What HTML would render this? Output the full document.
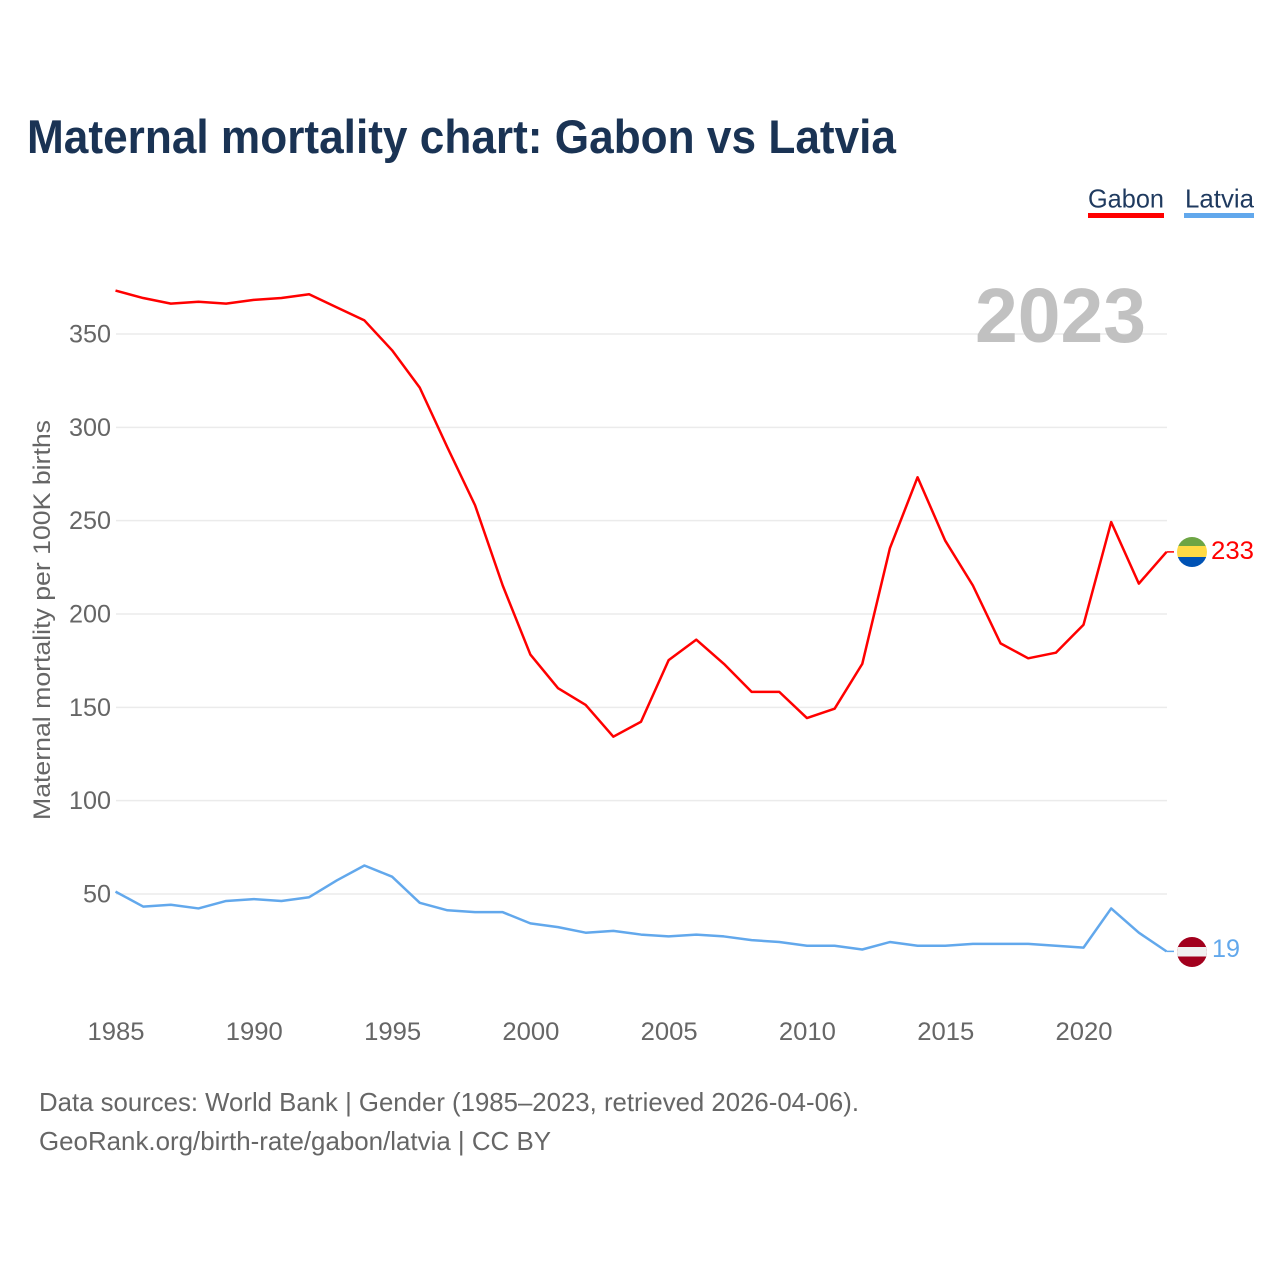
<!DOCTYPE html>
<html lang="en">
<head>
<meta charset="utf-8">
<title>Maternal mortality chart: Gabon vs Latvia</title>
<style>
html,body{margin:0;padding:0;background:#fff;width:1280px;height:1280px;overflow:hidden}
svg{display:block;font-family:"Liberation Sans",sans-serif}
</style>
</head>
<body>
<svg id="chart" xmlns="http://www.w3.org/2000/svg" width="1280" height="1280" viewBox="0 0 1280 1280">
  <defs>
    <clipPath id="clip-gabon"><circle cx="1192" cy="552" r="15"/></clipPath>
    <clipPath id="clip-latvia"><circle cx="1192" cy="952" r="15"/></clipPath>
  </defs>
  <rect width="1280" height="1280" fill="#fff"/>
  <text x="27" y="153" font-size="47" font-weight="700" fill="#1a3354" textLength="869" lengthAdjust="spacingAndGlyphs">Maternal mortality chart: Gabon vs Latvia</text>

  <g>
    <text x="1088" y="207.5" font-size="26" fill="#1f3a5f" textLength="76" lengthAdjust="spacingAndGlyphs">Gabon</text>
    <rect x="1088" y="213" width="76" height="5" fill="#ff0000"/>
  </g>
  <g>
    <text x="1185" y="207.5" font-size="26" fill="#1f3a5f" textLength="69" lengthAdjust="spacingAndGlyphs">Latvia</text>
    <rect x="1184" y="213" width="70" height="5" fill="#62a8ec"/>
  </g>

  <g id="grid"></g>
  <g id="y-ticks"></g>
  <g id="x-ticks"></g>

  <text x="975" y="342" font-size="77" font-weight="700" fill="#c1c1c1" textLength="171" lengthAdjust="spacingAndGlyphs">2023</text>

  <text transform="translate(50,820) rotate(-90)" font-size="24" fill="#666666" textLength="400" lengthAdjust="spacingAndGlyphs">Maternal mortality per 100K births</text>

  <g id="series"></g>

  <g clip-path="url(#clip-gabon)">
    <rect x="1177" y="537" width="30" height="9.5" fill="#6da544"/>
    <rect x="1177" y="546" width="30" height="11.5" fill="#ffda44"/>
    <rect x="1177" y="557" width="30" height="10" fill="#0052b4"/>
  </g>
  <g clip-path="url(#clip-latvia)">
    <rect x="1177" y="937" width="30" height="30" fill="#a2001d"/>
    <rect x="1177" y="947" width="30" height="9.5" fill="#f0f0f0"/>
  </g>
  <text x="1211" y="559" font-size="25" fill="#ff0000" textLength="43" lengthAdjust="spacingAndGlyphs">233</text>
  <text x="1212" y="957" font-size="25" fill="#62a8ec" textLength="28" lengthAdjust="spacingAndGlyphs">19</text>

  <text x="39" y="1111" font-size="26" fill="#666666" textLength="820" lengthAdjust="spacingAndGlyphs">Data sources: World Bank | Gender (1985–2023, retrieved 2026-04-06).</text>
  <text x="39" y="1150" font-size="26" fill="#666666" textLength="512" lengthAdjust="spacingAndGlyphs">GeoRank.org/birth-rate/gabon/latvia | CC BY</text>
</svg>
<script>
const years = [1985,1986,1987,1988,1989,1990,1991,1992,1993,1994,1995,1996,1997,1998,1999,2000,2001,2002,2003,2004,2005,2006,2007,2008,2009,2010,2011,2012,2013,2014,2015,2016,2017,2018,2019,2020,2021,2022,2023];
const gabonValues = [373,369,366,367,366,368,369,371,364,357,341,321,289,258,215,178,160,151,134,142,175,186,173,158,158,144,149,173,235,273,239,215,184,176,179,194,249,216,233];
const latviaValues = [51,43,44,42,46,47,46,48,57,65,59,45,41,40,40,34,32,29,30,28,27,28,27,25,24,22,22,20,24,22,22,23,23,23,22,21,42,29,19];
const yTickValues = [50,100,150,200,250,300,350];
const xTickValues = [1985,1990,1995,2000,2005,2010,2015,2020];

const NS = 'http://www.w3.org/2000/svg';
const xScale = function (year) { return 115.5 + (year - 1985) * (1166.5 - 115.5) / 38; };
const yScale = function (value) { return 334 + (350 - value) * 560 / 300; };
const lineNudge = -0.5;

const gridGroup = document.getElementById('grid');
const yTickGroup = document.getElementById('y-ticks');
const xTickGroup = document.getElementById('x-ticks');
const seriesGroup = document.getElementById('series');

yTickValues.forEach(function (value) {
  const line = document.createElementNS(NS, 'line');
  
  
  line.setAttribute('x1', 116);
  line.setAttribute('x2', 1167);
  line.setAttribute('y1', yScale(value));
  line.setAttribute('y2', yScale(value));
  line.setAttribute('stroke', '#ebebeb');
  line.setAttribute('stroke-width', '1.5');
  gridGroup.appendChild(line);

  const label = document.createElementNS(NS, 'text');
  
  
  label.setAttribute('x', 111);
  label.setAttribute('y', yScale(value) + 8.5);
  label.setAttribute('text-anchor', 'end');
  label.setAttribute('font-size', '25');
  label.setAttribute('fill', '#666666');
  label.setAttribute('textLength', String(value).length * 14);
  label.setAttribute('lengthAdjust', 'spacingAndGlyphs');
  label.textContent = value;
  yTickGroup.appendChild(label);
});

xTickValues.forEach(function (year) {
  const label = document.createElementNS(NS, 'text');
  
  
  label.setAttribute('x', xScale(year) - 28);
  label.setAttribute('y', 1040);
  label.setAttribute('font-size', '25');
  label.setAttribute('fill', '#666666');
  label.setAttribute('textLength', 57);
  label.setAttribute('lengthAdjust', 'spacingAndGlyphs');
  label.textContent = year;
  xTickGroup.appendChild(label);
});

function drawSeries(values, color) {
  const points = values.map(function (value, i) {
    return xScale(years[i]).toFixed(2) + ',' + (yScale(value) + lineNudge).toFixed(2);
  });
  const line = document.createElementNS(NS, 'polyline');
  line.setAttribute('fill', 'none');
  line.setAttribute('stroke', color);
  line.setAttribute('stroke-width', '2.5');
  line.setAttribute('stroke-linejoin', 'round');
  line.setAttribute('points', points.join(' '));
  return line;
}

function drawStub(values, color) {
  const y = yScale(values[values.length - 1]) + lineNudge;
  const stub = document.createElementNS(NS, 'line');
  stub.setAttribute('x1', xScale(years[years.length - 1]));
  stub.setAttribute('x2', 1174);
  stub.setAttribute('y1', y);
  stub.setAttribute('y2', y);
  stub.setAttribute('stroke', color);
  stub.setAttribute('stroke-width', '1.5');
  return stub;
}

const gabonLine = drawSeries(gabonValues, '#ff0000');


seriesGroup.appendChild(gabonLine);

const gabonStub = drawStub(gabonValues, '#ff0000');


seriesGroup.appendChild(gabonStub);

const latviaLine = drawSeries(latviaValues, '#62a8ec');


seriesGroup.appendChild(latviaLine);

const latviaStub = drawStub(latviaValues, '#62a8ec');


seriesGroup.appendChild(latviaStub);
</script>
</body>
</html>
